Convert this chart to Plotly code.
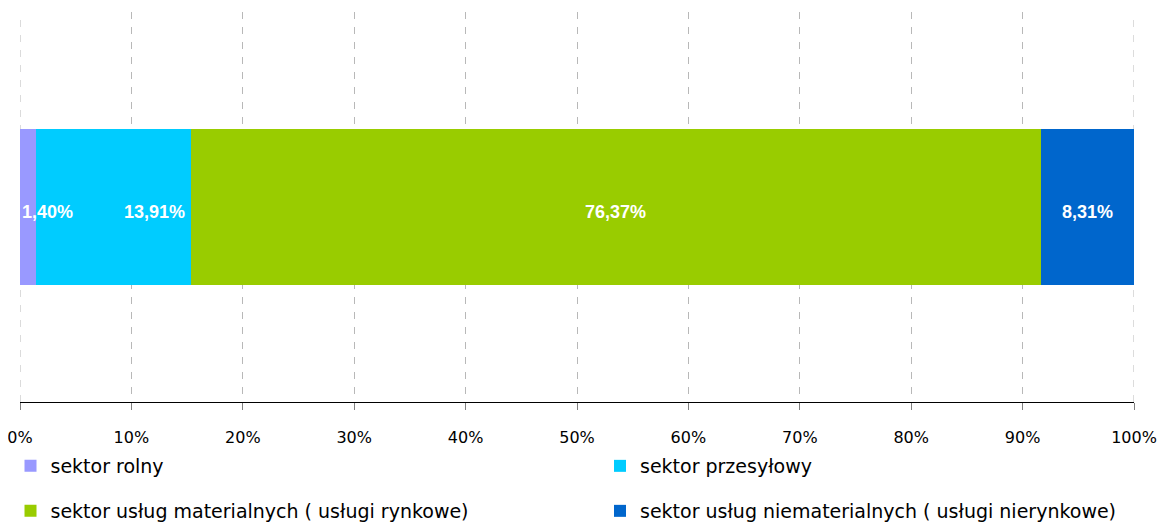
import plotly.graph_objects as go

categories = ["udział"]
series_names = [
    "sektor rolny",
    "sektor przesyłowy",
    "sektor usług materialnych ( usługi rynkowe)",
    "sektor usług niematerialnych ( usługi nierynkowe)",
]
series_values = [1.40, 13.91, 76.37, 8.31]
series_labels = ["1,40%", "13,91%", "76,37%", "8,31%"]
colors = ["#9999FF", "#00CCFF", "#99CC00", "#0066CC"]
tick_vals = [0, 10, 20, 30, 40, 50, 60, 70, 80, 90, 100]
tick_text = [f"{v}%" for v in tick_vals]

FONT = "DejaVu Sans"
GRID = "#b8b8b8"
DASH = "7px,8px"
legend_ids = ["legend", "legend2", "legend3", "legend4"]

fig = go.Figure()
for name, val, col, lg in zip(series_names, series_values, colors, legend_ids):
    fig.add_trace(go.Bar(
        y=categories, x=[val], name=name, orientation="h",
        marker=dict(color=col, line=dict(width=0)),
        width=0.4, hoverinfo="skip", legend=lg,
    ))

# data labels
cum = 0
annotations = []
for i, (val, lab) in enumerate(zip(series_values, series_labels)):
    start, end = cum, cum + val
    cum = end
    if i == 0:
        x, anchor, shift = start, "left", 0
    elif i == 1:
        x, anchor, shift = end, "right", -4
    else:
        x, anchor, shift = (start + end) / 2, "center", 0
    annotations.append(dict(
        x=x, y=categories[0], xref="x", yref="y", text=lab, showarrow=False,
        xanchor=anchor, xshift=shift, yshift=-5,
        font=dict(family="Liberation Sans", size=18, color="white", weight="bold"),
    ))

# gridlines at the range edges (plotly omits them)
shapes = []
for v in (tick_vals[0], tick_vals[-1]):
    shapes.append(dict(
        type="line", xref="x", yref="paper", x0=v, x1=v, y0=0, y1=1,
        line=dict(color=GRID, width=1, dash=DASH), layer="below",
    ))

# page body offset (browser default margin)
OFF = 8
W, H = 1168, 523
# desired plot-area edges in viewport pixels
VL, VR, VT, VB = 19.5, 1134.5, 12, 402
L = VL - OFF
R = W - (VR - OFF)
T = VT - OFF
B = H - (VB - OFF)
pw, ph = W - L - R, H - T - B


def vx_to_paper(px):
    return (px - OFF - L) / pw


def vy_to_paper(py):
    return (H - B - (py - OFF)) / ph


legend_font = dict(family=FONT, size=19, color="black")
legend_pos = [(10, 466), (600, 466), (10, 511), (600, 511)]
legend_layouts = {}
for lg, (lx, ly) in zip(legend_ids, legend_pos):
    legend_layouts[lg] = dict(
        x=vx_to_paper(lx), y=vy_to_paper(ly), xanchor="left", yanchor="middle",
        orientation="v", itemwidth=30, font=legend_font,
        bgcolor="rgba(0,0,0,0)",
    )

fig.update_layout(
    width=W, height=H,
    margin=dict(l=L, r=R, t=T, b=B, autoexpand=False),
    barmode="stack",
    plot_bgcolor="white", paper_bgcolor="white",
    showlegend=True,
    xaxis=dict(
        range=[0, 100], tickvals=tick_vals, ticktext=tick_text,
        showgrid=True, gridcolor=GRID, griddash=DASH, gridwidth=1,
        showline=True, linecolor="black", linewidth=1,
        ticks="outside", ticklen=7, tickcolor="#808080", tickwidth=1,
        tickfont=dict(family=FONT, size=16, color="black"),
        ticklabelstandoff=14, zeroline=False, automargin=False,
        ticklabeloverflow="allow",
    ),
    yaxis=dict(
        range=[-0.5, 0.5], showticklabels=False, showgrid=False,
        zeroline=False, showline=False, automargin=False,
    ),
    shapes=shapes,
    annotations=annotations,
    **legend_layouts,
)

fig.write_html("out.html")
